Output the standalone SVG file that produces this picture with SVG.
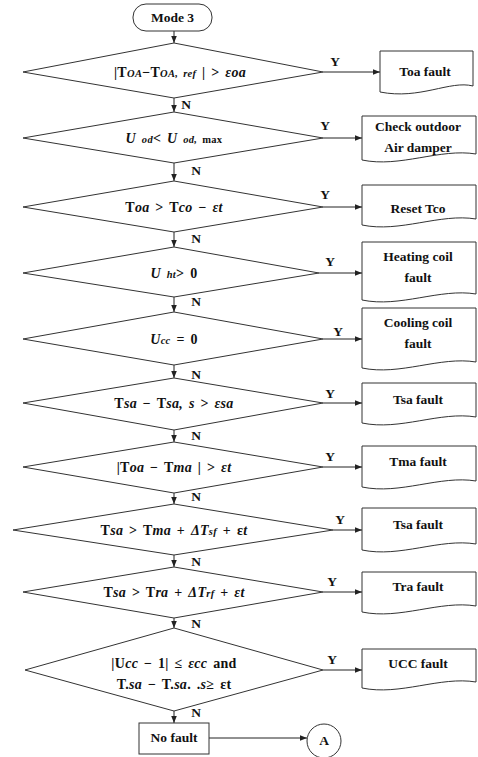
<svg xmlns="http://www.w3.org/2000/svg" width="478" height="757" viewBox="0 0 478 757">
<style>
.s{fill:#fff;stroke:#333;stroke-width:1}
.c{fill:none;stroke:#222;stroke-width:1}
text{font-family:"Liberation Serif","DejaVu Serif",serif;font-weight:bold;font-size:13.5px;fill:#111;text-anchor:middle}
.d{font-size:14px;word-spacing:2px;letter-spacing:0.3px}
.i{font-style:italic}
.sb{font-style:italic;font-size:10.5px}
.lb{font-size:12px}
</style>
<defs>
<marker id="a" viewBox="0 0 10 10" refX="10" refY="5" markerWidth="7" markerHeight="7" orient="auto" markerUnits="userSpaceOnUse"><path d="M0,1 L10,5 L0,9 Z" fill="#222"/></marker>
</defs>
<rect width="478" height="757" fill="#fff"/>
<g id="connectors">
<path class="c" d="M174,31 V43" marker-end="url(#a)"/>
<path class="c" d="M174,98 V112" marker-end="url(#a)"/>
<path class="c" d="M174,163 V181" marker-end="url(#a)"/>
<path class="c" d="M174,232 V247" marker-end="url(#a)"/>
<path class="c" d="M174,297 V312" marker-end="url(#a)"/>
<path class="c" d="M174,365 V378" marker-end="url(#a)"/>
<path class="c" d="M174,430 V442" marker-end="url(#a)"/>
<path class="c" d="M174,493 V504" marker-end="url(#a)"/>
<path class="c" d="M174,555 V567" marker-end="url(#a)"/>
<path class="c" d="M174,618 V628" marker-end="url(#a)"/>
<path class="c" d="M174,711 V723" marker-end="url(#a)"/>
<path class="c" d="M323,72 H380" marker-end="url(#a)"/>
<path class="c" d="M323,138 H362" marker-end="url(#a)"/>
<path class="c" d="M323,207 H362" marker-end="url(#a)"/>
<path class="c" d="M319,273 H362" marker-end="url(#a)"/>
<path class="c" d="M323,339 H362" marker-end="url(#a)"/>
<path class="c" d="M323,403 H362" marker-end="url(#a)"/>
<path class="c" d="M323,467 H362" marker-end="url(#a)"/>
<path class="c" d="M333,530 H362" marker-end="url(#a)"/>
<path class="c" d="M323,592 H362" marker-end="url(#a)"/>
<path class="c" d="M323,670 H362" marker-end="url(#a)"/>
<path class="c" d="M209,738 H307" marker-end="url(#a)"/>
<g class="lb">
<text x="335" y="66">Y</text><text x="186" y="109">N</text>
<text x="325" y="130">Y</text><text x="196" y="175">N</text>
<text x="325" y="199">Y</text><text x="196" y="243">N</text>
<text x="330" y="266">Y</text><text x="196" y="306">N</text>
<text x="338" y="336">Y</text><text x="196" y="379">N</text>
<text x="330" y="398">Y</text><text x="196" y="440">N</text>
<text x="330" y="461">Y</text><text x="196" y="501">N</text>
<text x="340" y="524">Y</text><text x="196" y="566">N</text>
<text x="332" y="586">Y</text><text x="196" y="628">N</text>
<text x="332" y="664">Y</text><text x="196" y="717">N</text>
</g>
</g>
<g id="start"><rect class="s" x="133" y="4" width="79" height="27" rx="13"/><text x="172.5" y="22" font-size="13">Mode 3</text></g>
<g id="d1"><path class="s" d="M174,43 L323,72 L174,98 L23,72 Z"/><text class="d" x="180" y="77">|T<tspan class="sb">OA</tspan>−T<tspan class="sb">OA, ref</tspan> | &gt; <tspan class="i">εoa</tspan></text></g>
<g id="d2"><path class="s" d="M174,112 L323,138 L174,163 L23,138 Z"/><text class="d" x="174" y="143"><tspan class="i">U</tspan> <tspan class="sb">od</tspan>&lt; <tspan class="i">U</tspan> <tspan class="sb">od,</tspan><tspan font-size="10.5"> max</tspan></text></g>
<g id="d3"><path class="s" d="M174,181 L323,207 L174,232 L23,207 Z"/><text class="d" x="174" y="212">T<tspan class="i">oa</tspan> &gt; T<tspan class="i">co</tspan> − <tspan class="i">εt</tspan></text></g>
<g id="d4"><path class="s" d="M174,247 L319,273 L174,297 L23,273 Z"/><text class="d" x="174" y="278"><tspan class="i">U</tspan> <tspan class="sb">ht</tspan>&gt; 0</text></g>
<g id="d5"><path class="s" d="M174,312 L323,339 L174,365 L23,339 Z"/><text class="d" x="174" y="344"><tspan class="i">U</tspan><tspan class="sb">cc</tspan> = 0</text></g>
<g id="d6"><path class="s" d="M174,378 L323,403 L174,430 L23,403 Z"/><text class="d" x="174" y="408">T<tspan class="i">sa</tspan> − T<tspan class="i">sa, s</tspan> &gt; <tspan class="i">εsa</tspan></text></g>
<g id="d7"><path class="s" d="M174,442 L323,467 L174,493 L23,467 Z"/><text class="d" x="174" y="472">|T<tspan class="i">oa</tspan> − T<tspan class="i">ma</tspan> | &gt; <tspan class="i">εt</tspan></text></g>
<g id="d8"><path class="s" d="M174,504 L333,530 L174,555 L13,530 Z"/><text class="d" x="174" y="535">T<tspan class="i">sa</tspan> &gt; T<tspan class="i">ma</tspan> + <tspan class="i">ΔT</tspan><tspan class="sb">sf</tspan> + ε<tspan class="i">t</tspan></text></g>
<g id="d9"><path class="s" d="M174,567 L323,592 L174,618 L23,592 Z"/><text class="d" x="174" y="597">T<tspan class="i">sa</tspan> &gt; T<tspan class="i">ra</tspan> + <tspan class="i">ΔT</tspan><tspan class="sb">rf</tspan> + <tspan class="i">εt</tspan></text></g>
<g id="d10"><path class="s" d="M174,628 L323,670 L174,711 L25,670 Z"/><text class="d" x="174" y="668">|U<tspan class="i">cc</tspan> − 1| ≤ <tspan class="i">εcc</tspan> and</text><text class="d" x="174" y="689">T.<tspan class="i">sa</tspan> − T.<tspan class="i">sa</tspan>. .<tspan class="i">s</tspan>≥ εt</text></g>
<g id="r1"><path class="s" d="M380,51 H473 V86 C450,80 420,100 380,92 Z"/><text x="425" y="76">Toa fault</text></g>
<g id="r2"><path class="s" d="M362,116 H476 V154 C440,148 400,168 362,160 Z"/><text x="418" y="131">Check outdoor</text><text x="418" y="152">Air damper</text></g>
<g id="r3"><path class="s" d="M362,185 H476 V219 C440,213 400,233 362,225 Z"/><text x="418" y="213">Reset Tco</text></g>
<g id="r4"><path class="s" d="M362,242 H476 V294 C440,288 400,308 362,300 Z"/><text x="418" y="261">Heating coil</text><text x="418" y="282">fault</text></g>
<g id="r5"><path class="s" d="M362,308 H476 V362 C440,356 400,376 362,368 Z"/><text x="418" y="327">Cooling coil</text><text x="418" y="348">fault</text></g>
<g id="r6"><path class="s" d="M362,383 H476 V417 C440,411 400,431 362,423 Z"/><text x="418" y="404">Tsa fault</text></g>
<g id="r7"><path class="s" d="M362,446 H476 V481 C440,475 400,495 362,487 Z"/><text x="418" y="466">Tma fault</text></g>
<g id="r8"><path class="s" d="M362,508 H476 V544 C440,538 400,558 362,550 Z"/><text x="418" y="529">Tsa fault</text></g>
<g id="r9"><path class="s" d="M362,572 H476 V606 C440,600 400,620 362,612 Z"/><text x="418" y="591">Tra fault</text></g>
<g id="r10"><path class="s" d="M362,649 H476 V682 C440,676 400,696 362,688 Z"/><text x="418" y="668">UCC fault</text></g>
<g id="nofault"><rect class="s" x="139" y="723" width="70" height="31"/><text x="174" y="742">No fault</text></g>
<g id="A"><circle class="s" cx="324" cy="741" r="17"/><text x="324" y="745" font-size="11">A</text></g>
</svg>
